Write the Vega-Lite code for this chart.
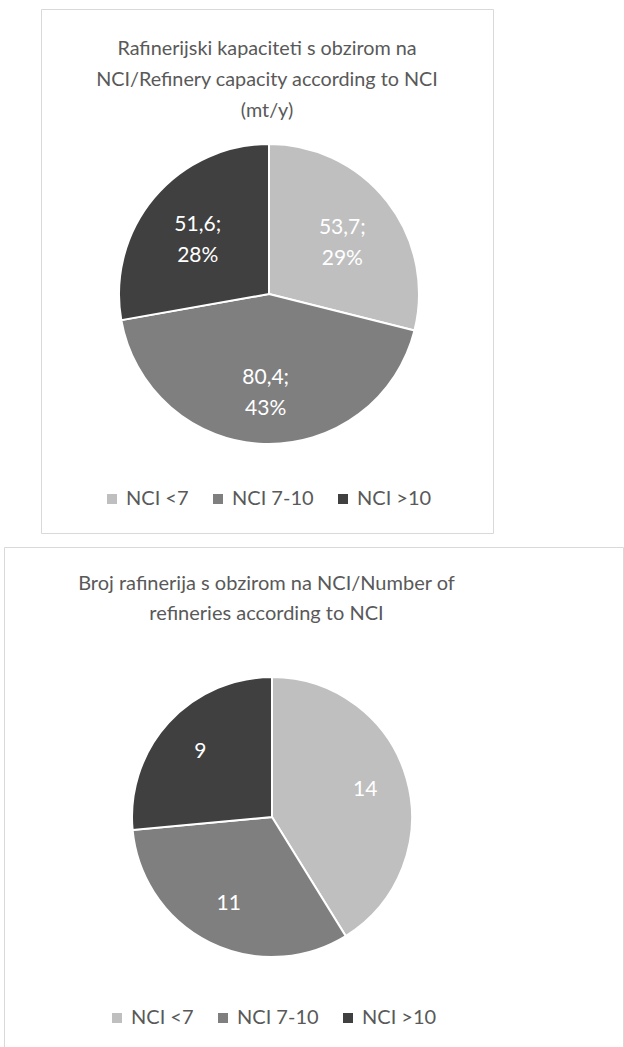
{
  "$schema": "https://vega.github.io/schema/vega-lite/v6.json",
  "padding": {"left": 3, "top": 8, "right": 0, "bottom": 0},
  "background": "white",
  "spacing": 12,
  "config": {
    "font": "Lato",
    "view": {"stroke": "#d9d9d9", "strokeWidth": 1}
  },
  "resolve": {"scale": {"color": "independent"}, "legend": {"color": "independent"}},
  "vconcat": [
    {
      "spacing": 0,
      "resolve": {"scale": {"color": "independent"}, "legend": {"color": "independent"}},
      "hconcat": [
        {
          "width": 36,
          "height": 10,
          "data": {"values": []},
          "mark": {"type": "point", "opacity": 0},
          "view": {"stroke": null}
        },
        {
          "width": 452,
          "height": 524,
          "view": {"stroke": "#d9d9d9", "strokeWidth": 1},
          "title": {
            "text": ["Rafinerijski kapaciteti s obzirom na", "NCI/Refinery capacity according to NCI", "(mt/y)"],
            "fontSize": 19.8,
            "fontWeight": "normal",
            "font": "Lato",
            "color": "#595959",
            "lineHeight": 31,
            "offset": -112,
            "anchor": "middle"
          },
          "data": {
            "values": [
              {"category": "NCI <7", "order": 1, "value": 53.7, "label": "53,7;\n29%"},
              {"category": "NCI 7-10", "order": 2, "value": 80.4, "label": "80,4;\n43%"},
              {"category": "NCI >10", "order": 3, "value": 51.6, "label": "51,6;\n28%"}
            ]
          },
          "encoding": {
            "theta": {"field": "value", "type": "quantitative", "stack": true},
            "order": {"field": "order", "type": "quantitative"}
          },
          "layer": [
            {
              "mark": {"type": "arc", "outerRadius": 150, "stroke": "white", "strokeWidth": 2, "xOffset": 2, "yOffset": 23},
              "encoding": {
                "color": {
                  "field": "category",
                  "type": "nominal",
                  "scale": {"domain": ["NCI <7", "NCI 7-10", "NCI >10"], "range": ["#bfbfbf", "#7f7f7f", "#404040"]},
                  "legend": {
                    "orient": "none",
                    "legendX": 61,
                    "legendY": 480,
                    "direction": "horizontal",
                    "title": null,
                    "symbolType": "square",
                    "symbolSize": 100,
                    "symbolStrokeWidth": 0,
                    "labelFontSize": 20,
                    "labelFont": "Lato",
                    "labelColor": "#595959",
                    "columnPadding": 19,
                    "labelOffset": 4
                  }
                }
              }
            },
            {
              "mark": {"type": "text", "radius": 93, "xOffset": 2, "yOffset": 23, "dy": -9, "fontSize": 21, "lineHeight": 31, "lineBreak": "\n", "color": "white", "font": "Lato"},
              "encoding": {"text": {"field": "label", "type": "nominal"}}
            }
          ]
        }
      ]
    },
    {
      "width": 619,
      "height": 501,
      "view": {"stroke": "#d9d9d9", "strokeWidth": 1},
      "title": {
        "text": ["Broj rafinerija s obzirom na NCI/Number of", "refineries according to NCI"],
        "fontSize": 20,
        "fontWeight": "normal",
        "font": "Lato",
        "color": "#595959",
        "lineHeight": 30,
        "offset": -77,
        "dx": -47,
        "anchor": "middle"
      },
      "data": {
        "values": [
          {"category": "NCI <7", "order": 1, "value": 14, "label": "14"},
          {"category": "NCI 7-10", "order": 2, "value": 11, "label": "11"},
          {"category": "NCI >10", "order": 3, "value": 9, "label": "9"}
        ]
      },
      "encoding": {
        "theta": {"field": "value", "type": "quantitative", "stack": true},
        "order": {"field": "order", "type": "quantitative"}
      },
      "layer": [
        {
          "mark": {"type": "arc", "outerRadius": 140, "stroke": "white", "strokeWidth": 2, "xOffset": -41.5, "yOffset": 19.5},
          "encoding": {
            "color": {
              "field": "category",
              "type": "nominal",
              "scale": {"domain": ["NCI <7", "NCI 7-10", "NCI >10"], "range": ["#bfbfbf", "#7f7f7f", "#404040"]},
              "legend": {
                "orient": "none",
                "legendX": 103,
                "legendY": 461,
                "direction": "horizontal",
                "title": null,
                "symbolType": "square",
                "symbolSize": 100,
                "symbolStrokeWidth": 0,
                "labelFontSize": 20,
                "labelFont": "Lato",
                "labelColor": "#595959",
                "columnPadding": 19,
                "labelOffset": 4
              }
            }
          }
        },
        {
          "mark": {"type": "text", "radius": 97, "xOffset": -41.5, "yOffset": 19.5, "fontSize": 21, "color": "white", "font": "Lato"},
          "encoding": {"text": {"field": "label", "type": "nominal"}}
        }
      ]
    }
  ]
}
